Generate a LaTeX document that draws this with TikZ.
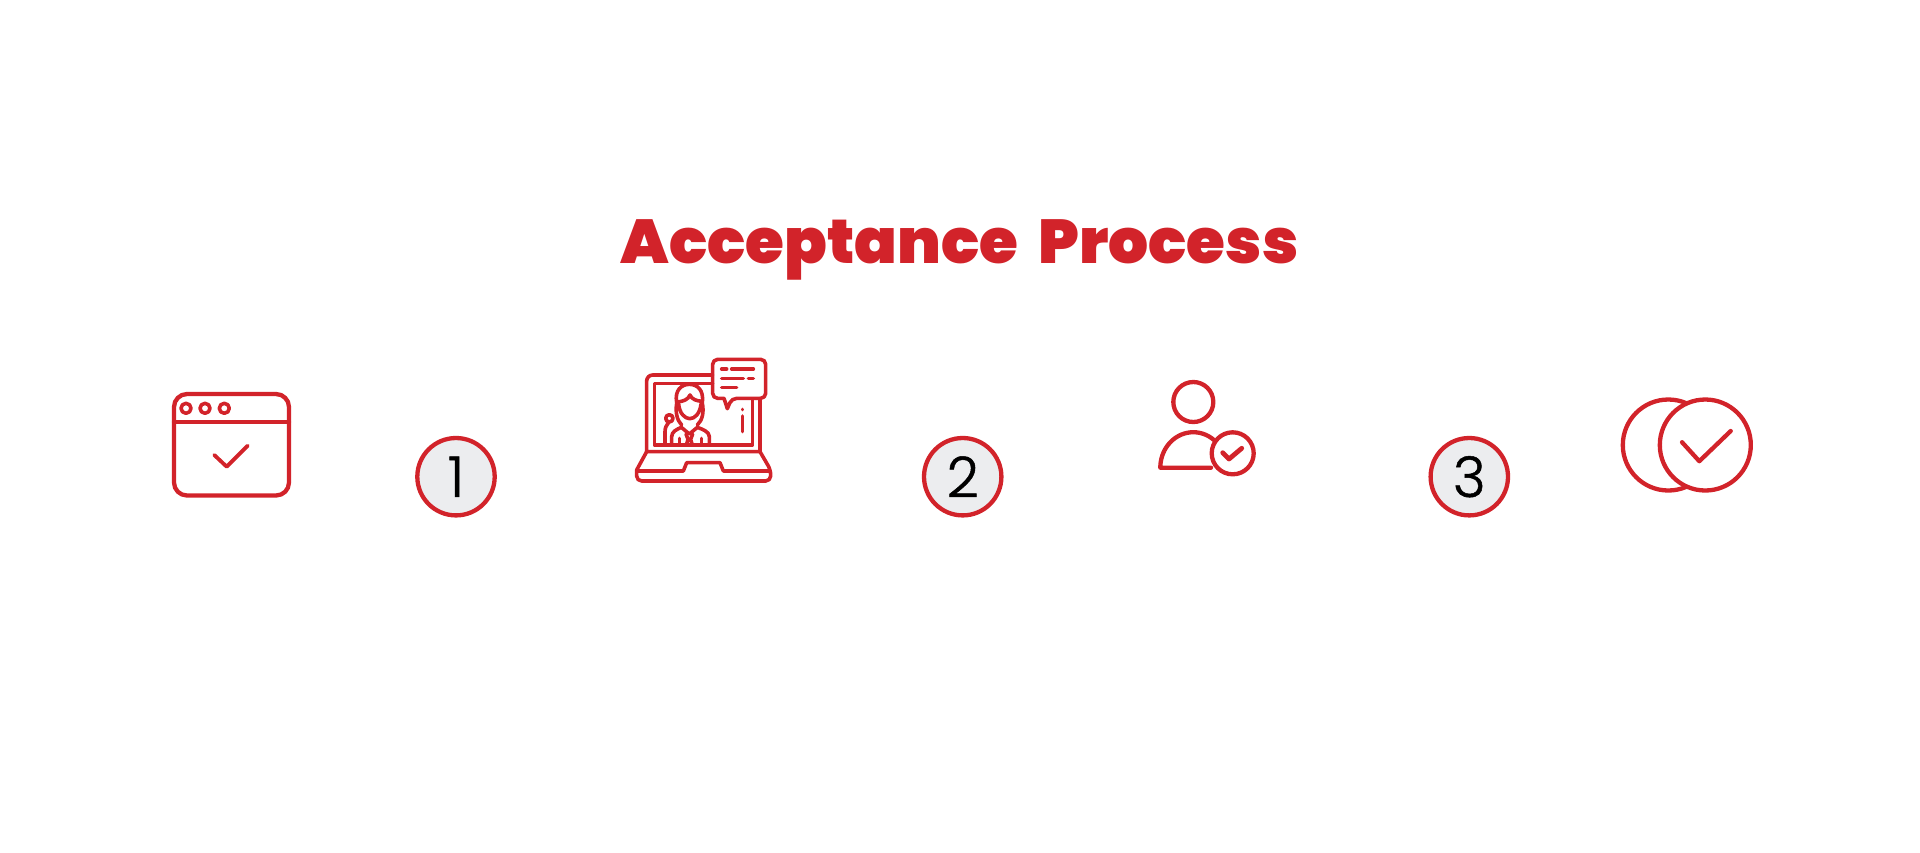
\documentclass[tikz,border=0pt]{standalone}
\usepackage{fontspec}
\setmainfont{Poppins}
\newfontfamily\titlefont[UprightFont=* Black]{Poppins}
\newfontfamily\digitfont[UprightFont=* Light,FakeBold=0.9]{Poppins}
\definecolor{brand}{HTML}{D2232A}
\definecolor{disc}{HTML}{ECEDEF}
\tikzset{
  icon/.style={draw=brand,line width=2.15pt,line cap=round,line join=round,fill=none},
  thin icon/.style={draw=brand,line width=1.8pt,line cap=round,line join=round,fill=none},
  numdisc/.style={circle,draw=brand,fill=disc,line width=2.15pt,minimum size=38.7pt,inner sep=0pt,text=black,font=\digitfont\fontsize{28}{28}\selectfont},
  titletext/.style={text=brand,inner sep=0pt,anchor=base,font=\titlefont\fontsize{31}{31}\selectfont}
}
\begin{document}
\begin{tikzpicture}[x=0.5pt,y=-0.5pt]
\useasboundingbox (0,0) rectangle (1920,852);
\node[titletext] (title) at (959.5,263.3) {\scalebox{1.015}[1]{Acceptance\hspace{4.5pt} Process}};
% form icon
\draw[icon,rounded corners=6.5pt] (174,394) rectangle (289,495.5);
\draw[icon] (174,421.7) -- (289,421.7);
\draw[icon,line width=1.8pt] (186,408.3) circle[radius=5] (205,408.3) circle[radius=5] (224.3,408.3) circle[radius=5];
\draw[icon,line width=1.9pt] (214.3,455) -- (226.7,466.7) -- (247.7,445.7);
% numbers
\node[numdisc] (n1) at (456,476.7) {1};
\node[numdisc] (n2) at (962.7,476.7) {2};
\node[numdisc] (n3) at (1469.3,476.7) {3};
% laptop icon
\begin{scope}[shift={(620,340)},x=0.16667pt,y=-0.16667pt]
\draw[thin icon,rounded corners=3pt] (278,105) -- (80,105) -- (80,140) [sharp corners] -- (80,335) -- (420,335) -- (420,175);
\draw[thin icon] (278,130) -- (103,130) -- (103,315) -- (397,315) -- (397,178);
\draw[thin icon] (80,335) -- (50,390) [rounded corners=2.5pt] -- (50,423) -- (452,423) -- (452,390) [sharp corners] -- (420,335);
\draw[thin icon] (52,393) -- (190,393) -- (200,368) -- (300,368) -- (310,393) -- (450,393);
\draw[thin icon,rounded corners=2.5pt] (312,175) -- (278,175) -- (278,58) -- (437,58) -- (437,175) -- (335,175) [sharp corners] -- (322,206) -- cycle;
\draw[thin icon] (305,87) -- (320,87) (335,87) -- (400,87) (305,115) -- (370,115) (385,115) -- (400,115) (305,143) -- (350,143);
\draw[thin icon] (368,208) -- (368,209) (368,228) -- (368,275);
% person
\draw[thin icon] (170,188) .. controls (163,150) and (185,133) .. (208,133) .. controls (232,133) and (252,150) .. (247,188);
\draw[thin icon] (170,186) .. controls (190,185) and (205,178) .. (210,165) .. controls (215,178) and (230,183) .. (247,184);
\draw[thin icon] (176,192) .. controls (178,220) and (195,236) .. (209,236) .. controls (225,236) and (240,220) .. (243,192);
\draw[thin icon] (170,190) .. controls (166,215) and (170,240) .. (185,255) (247,190) .. controls (252,215) and (248,240) .. (232,255);
\draw[thin icon] (155,312) -- (155,290) .. controls (155,275) and (170,268) .. (184,262) -- (208,282) -- (232,262) .. controls (248,268) and (268,275) .. (268,290) -- (268,312);
\draw[thin icon] (198,282) -- (204,298) -- (200,312) (218,282) -- (212,298) -- (216,312);
\draw[thin icon] (178,295) -- (178,312) (245,295) -- (245,312);
\draw[thin icon] (148,235) circle[radius=11];
\draw[thin icon] (135,312) -- (135,275) .. controls (135,262) and (140,255) .. (146,247);
\end{scope}
% person check icon
\draw[icon] (1193.3,402) circle[radius=20];
\draw[icon] (1214.5,440.5) arc[start angle=-50,end angle=-180,x radius=33,y radius=35.5] -- (1211,467.7);
\draw[icon] (1232.7,453.3) circle[radius=21];
\draw[icon,line width=2.4pt] (1222.7,452.7) -- (1229,459) -- (1241.7,448.3);
% overlapping circles icon
\draw[icon] (1668.3,445) circle[radius=45.5];
\draw[icon,fill=white] (1705.3,445) circle[radius=45.5];
\draw[icon] (1682,442.2) -- (1699.3,461.2) -- (1730.7,431);
\end{tikzpicture}
\end{document}
